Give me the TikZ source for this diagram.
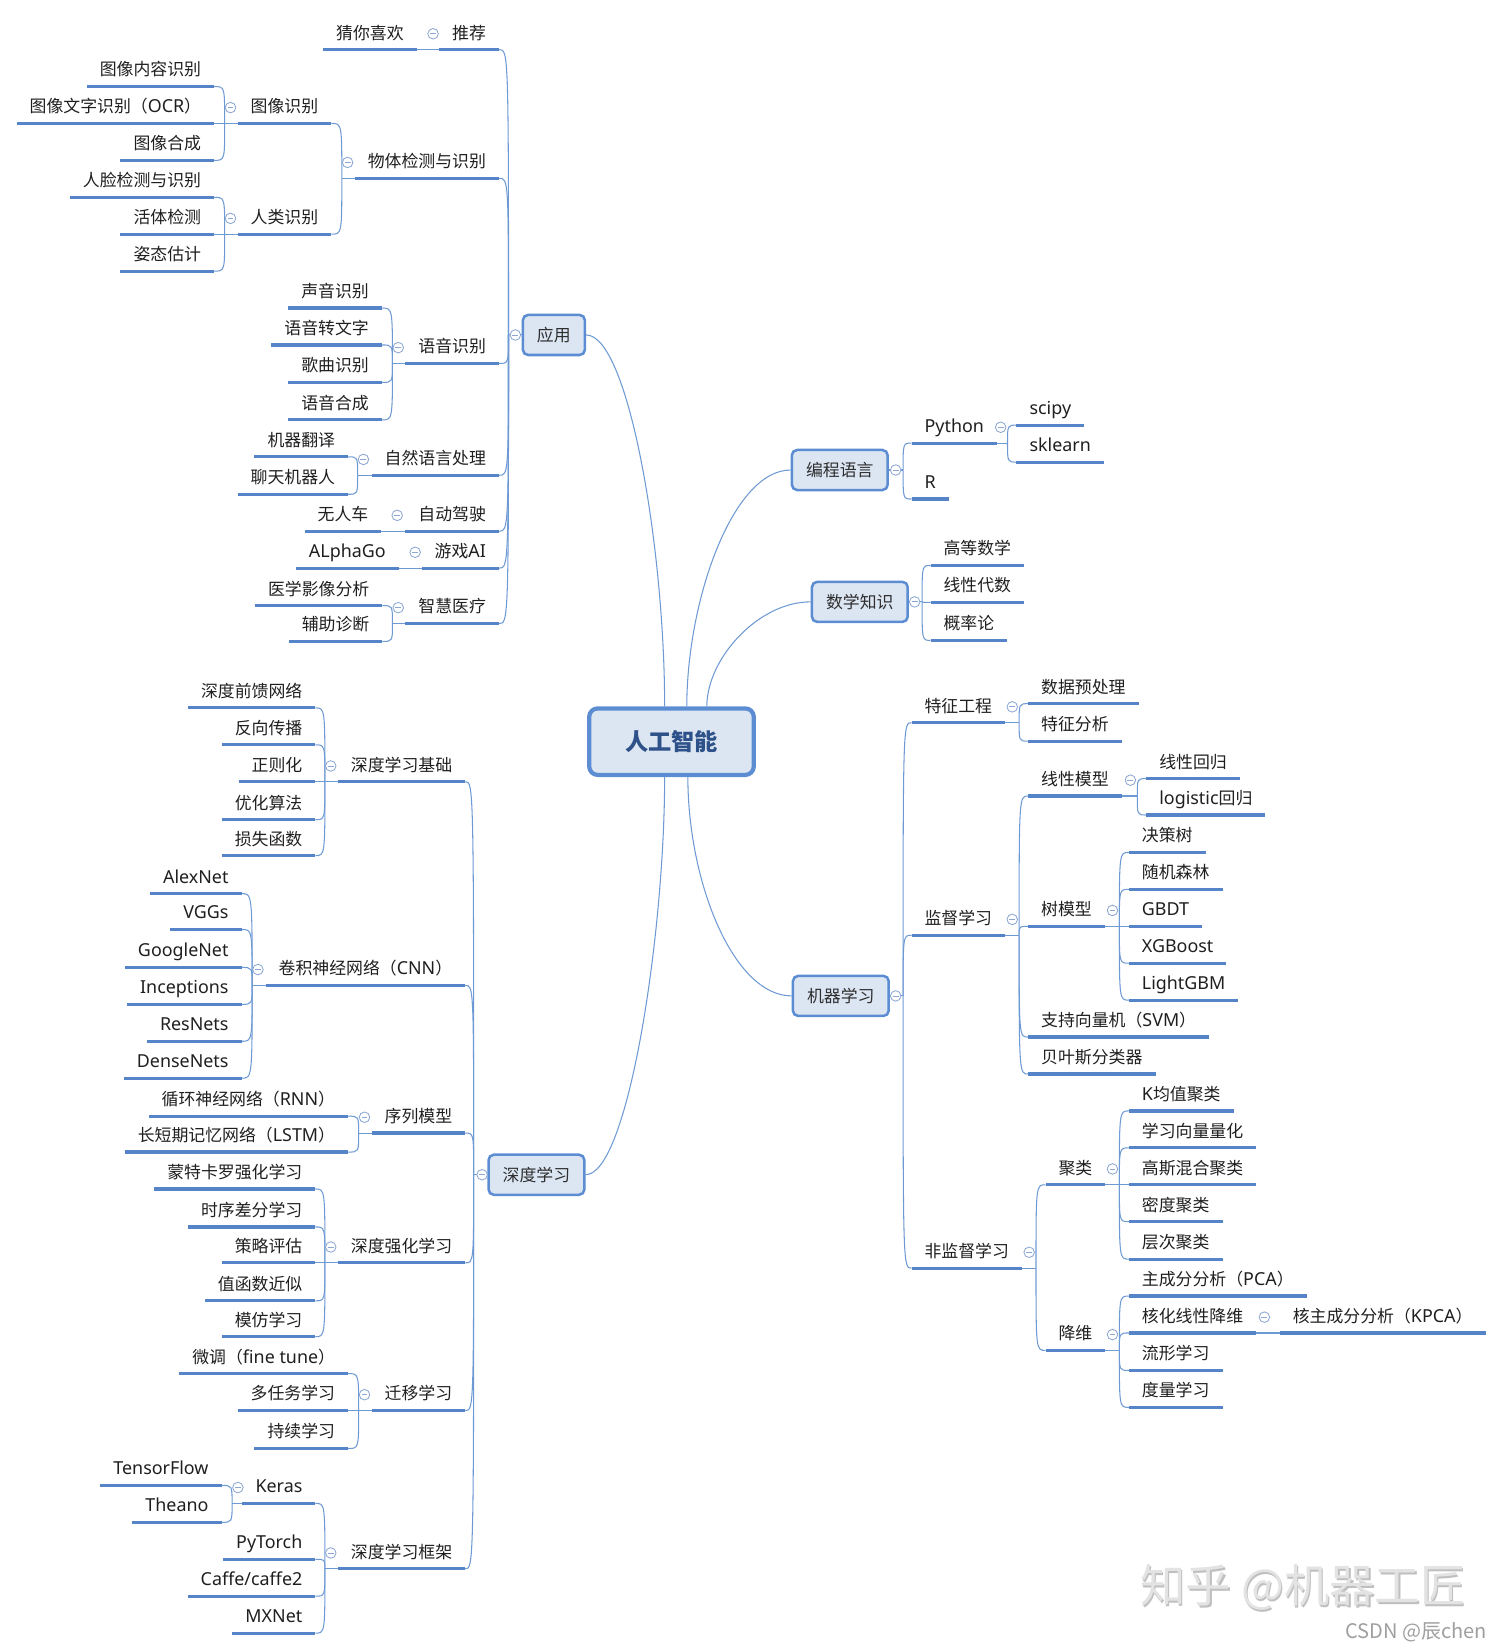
\documentclass[tikz,border=0pt]{standalone}
\usepackage{fontspec}
\setmainfont{Noto Sans CJK SC}
\newfontfamily\latfam[Scale=1.06]{Noto Sans}
\newcommand{\lat}[1]{{\latfam #1}}
\usepackage{tikz}
\usetikzlibrary{positioning,calc}
\definecolor{ulblue}{HTML}{5585C8}
\definecolor{lnblue}{HTML}{6E9AD4}
\definecolor{boxline}{HTML}{5C8DD3}
\definecolor{boxfill}{HTML}{DCE6F3}
\definecolor{boxtext}{HTML}{2E2E2E}
\definecolor{roottext}{HTML}{2E5189}
\definecolor{foldblue}{HTML}{8CA7D3}
\newcommand{\mmsize}{\fontsize{8pt}{9pt}\selectfont}
\tikzstyle{uline}=[draw=ulblue,line width=1.5pt]
\tikzstyle{conn} =[draw=lnblue,line width=0.5pt]
\tikzstyle{leaf} =[inner xsep=6pt,inner ysep=0pt,text height=7pt,text depth=1.6pt,minimum height=15pt,font=\mmsize,text=black!88,
                   append after command={(\tikzlastnode.south west) edge[uline] (\tikzlastnode.south east)}]
\tikzstyle{lleaf}=[leaf,anchor=south east]
\tikzstyle{rleaf}=[leaf,anchor=south west]
\tikzstyle{topic}=[draw=boxline,line width=1.2pt,fill=boxfill,rounded corners=2.5pt,minimum height=19pt,inner xsep=6.7pt,font=\mmsize,text=boxtext]
\tikzstyle{root} =[draw=boxline,line width=2pt,fill=boxfill,rounded corners=4pt,minimum width=78pt,minimum height=31.5pt,font=\fontsize{11pt}{12pt}\selectfont\bfseries,text=roottext]
\tikzstyle{fold} =[circle,draw=foldblue,line width=0.4pt,fill=white,minimum size=5pt,inner sep=0pt,
                   path picture={\draw[foldblue,line width=0.4pt] ([xshift=-1.4pt]path picture bounding box.center) -- ([xshift=1.4pt]path picture bounding box.center);}]
\tikzstyle{wmark}=[font=\fontsize{21.5pt}{22pt}\selectfont]
\newcommand{\lfan}[2]{\foreach \ch in {#2}{\draw[conn] (#1) .. controls (#1 |- \ch.south east) .. (\ch.south east);}}
\newcommand{\rfan}[2]{\foreach \ch in {#2}{\draw[conn] (#1) .. controls (#1 |- \ch.south west) .. (\ch.south west);}}
\newcommand{\lbranch}[4]{\coordinate (j#1) at (#2,#3);
  \draw[conn] (j#1) -- (#1.south west);
  \lfan{j#1}{#4}
  \node[fold] (f#1) at ($(j#1)+(5.5,-15)$) {};}
\newcommand{\rbranch}[4]{\coordinate (j#1) at (#2,#3);
  \draw[conn] (#1.south east) -- (j#1);
  \rfan{j#1}{#4}
  \node[fold] (f#1) at ($(j#1)+(-6.5,-15)$) {};}

\begin{document}
\begin{tikzpicture}[x=0.5pt,y=-0.5pt]
\useasboundingbox (0,0) rectangle (1424,1564);
\node[root]  (ai)   at (636.5,703)    {人工智能};
\node[topic] (app)  at (525,317.5)    {应用};
\node[topic] (prog) at (796,445.5)    {编程语言};
\node[topic] (math) at (815,570.5)    {数学知识};
\node[topic] (ml)   at (797,944)      {机器学习};
\node[topic] (dl)   at (508.5,1113.5) {深度学习};

\node[lleaf] (tj)    at (473,47)      {推荐};
\node[lleaf] (cxhx)  at (395,47)      {猜你喜欢};
\node[lleaf] (wt)    at (473,169)     {物体检测与识别};
\node[lleaf] (txsb)  at (314,117)     {图像识别};
\node[lleaf] (txnr)  at (203,82)      {图像内容识别};
\node[lleaf] (txwz)  at (203,117)     {图像文字识别（\lat{OCR}）};
\node[lleaf] (txhc)  at (203,152)     {图像合成};
\node[lleaf] (rlsb)  at (314,222)     {人类识别};
\node[lleaf] (rljc)  at (203,187)     {人脸检测与识别};
\node[lleaf] (htjc)  at (203,222)     {活体检测};
\node[lleaf] (ztgj)  at (203,257)     {姿态估计};
\node[lleaf] (yysb)  at (473,344.5)   {语音识别};
\node[lleaf] (sysb)  at (362,292)     {声音识别};
\node[lleaf] (yyzw)  at (362,327)     {语音转文字};
\node[lleaf] (gqsb)  at (362,362.5)   {歌曲识别};
\node[lleaf] (yyhc)  at (362,398)     {语音合成};
\node[lleaf] (zrcl)  at (473,450.5)   {自然语言处理};
\node[lleaf] (jqfy)  at (330,433)     {机器翻译};
\node[lleaf] (ltjq)  at (330,468.5)   {聊天机器人};
\node[lleaf] (zdjs)  at (473,503.5)   {自动驾驶};
\node[lleaf] (wrc)   at (361.5,503.5) {无人车};
\node[lleaf] (yxai)  at (473,538.5)   {游戏\lat{AI}};
\node[lleaf] (alpha) at (378,538.5)   {\lat{ALphaGo}};
\node[lleaf] (zhyl)  at (473,591)     {智慧医疗};
\node[lleaf] (yxyx)  at (362.5,574)   {医学影像分析};
\node[lleaf] (fzzd)  at (362.5,608)   {辅助诊断};

\node[rleaf] (py)    at (864,420)     {\lat{Python}};
\node[rleaf] (scipy) at (963.5,403)   {\lat{scipy}};
\node[rleaf] (skl)   at (963.5,438)   {\lat{sklearn}};
\node[rleaf] (rl)    at (864,473)     {\lat{R}};
\node[rleaf] (gdsx)  at (882,536)     {高等数学};
\node[rleaf] (xxds)  at (882,571)     {线性代数};
\node[rleaf] (gll)   at (882,607)     {概率论};

\node[rleaf] (tzgc)  at (864,685)     {特征工程};
\node[rleaf] (sjycl) at (974.5,667)   {数据预处理};
\node[rleaf] (tzfx)  at (974.5,702.5) {特征分析};
\node[rleaf] (jdxx)  at (864,886.5)   {监督学习};
\node[rleaf] (xxmx)  at (974.5,754.5) {线性模型};
\node[rleaf] (xxhg)  at (1086.5,738)  {线性回归};
\node[rleaf] (lghg)  at (1086.5,772.5) {\lat{logistic}回归};
\node[rleaf] (smx)   at (974.5,878)   {树模型};
\node[rleaf] (jcs)   at (1070,808)    {决策树};
\node[rleaf] (sjsl)  at (1070,843)    {随机森林};
\node[rleaf] (gbdt)  at (1070,878)    {\lat{GBDT}};
\node[rleaf] (xgb)   at (1070,913)    {\lat{XGBoost}};
\node[rleaf] (lgbm)  at (1070,948)    {\lat{LightGBM}};
\node[rleaf] (svm)   at (974.5,983)   {支持向量机（\lat{SVM}）};
\node[rleaf] (byes)  at (974.5,1018)  {贝叶斯分类器};
\node[rleaf] (fjd)   at (864,1202)    {非监督学习};
\node[rleaf] (jl)    at (991,1123)    {聚类};
\node[rleaf] (kjz)   at (1070,1053)   {\lat{K}均值聚类};
\node[rleaf] (xxlh)  at (1070,1088)   {学习向量量化};
\node[rleaf] (gshh)  at (1070,1123)   {高斯混合聚类};
\node[rleaf] (mdjl)  at (1070,1158)   {密度聚类};
\node[rleaf] (ccjl)  at (1070,1193.5) {层次聚类};
\node[rleaf] (jw)    at (991,1280)    {降维};
\node[rleaf] (pca)   at (1070,1228.5) {主成分分析（\lat{PCA}）};
\node[rleaf] (hhjw)  at (1070,1263.5) {核化线性降维};
\node[rleaf] (kpca)  at (1213,1263.5) {核主成分分析（\lat{KPCA}）};
\node[rleaf] (lxxx)  at (1070,1299)   {流形学习};
\node[rleaf] (dlxx)  at (1070,1334)   {度量学习};

\node[lleaf] (sdjc)  at (441,741)     {深度学习基础};
\node[lleaf] (sdqk)  at (299,671)     {深度前馈网络};
\node[lleaf] (fxcb)  at (299,706)     {反向传播};
\node[lleaf] (zzh)   at (299,741)     {正则化};
\node[lleaf] (yhsf)  at (299,777)     {优化算法};
\node[lleaf] (sshs)  at (299,811)     {损失函数};
\node[lleaf] (cnn)   at (441,934)     {卷积神经网络（\lat{CNN}）};
\node[lleaf] (alex)  at (229,847)     {\lat{AlexNet}};
\node[lleaf] (vgg)   at (229,881)     {\lat{VGGs}};
\node[lleaf] (ggn)   at (229,917)     {\lat{GoogleNet}};
\node[lleaf] (incp)  at (229,952)     {\lat{Inceptions}};
\node[lleaf] (resn)  at (229,987)     {\lat{ResNets}};
\node[lleaf] (dens)  at (229,1022)    {\lat{DenseNets}};
\node[lleaf] (xlmx)  at (441,1074)    {序列模型};
\node[lleaf] (rnn)   at (330,1058)    {循环神经网络（\lat{RNN}）};
\node[lleaf] (lstm)  at (330,1092)    {长短期记忆网络（\lat{LSTM}）};
\node[lleaf] (sdqh)  at (441,1197)    {深度强化学习};
\node[lleaf] (mtkl)  at (299,1127)    {蒙特卡罗强化学习};
\node[lleaf] (sxcf)  at (299,1163)    {时序差分学习};
\node[lleaf] (clpg)  at (299,1197)    {策略评估};
\node[lleaf] (hsjs)  at (299,1233)    {值函数近似};
\node[lleaf] (mfxx)  at (299,1267)    {模仿学习};
\node[lleaf] (qyxx)  at (441,1337)    {迁移学习};
\node[lleaf] (wtft)  at (330,1302)    {微调（\lat{fine tune}）};
\node[lleaf] (drw)   at (330,1337)    {多任务学习};
\node[lleaf] (cxxx)  at (330,1373)    {持续学习};
\node[lleaf] (kj)    at (441,1487)    {深度学习框架};
\node[lleaf] (keras) at (299,1425)    {\lat{Keras}};
\node[lleaf] (tf)    at (210,1408)    {\lat{TensorFlow}};
\node[lleaf] (thea)  at (210,1443)    {\lat{Theano}};
\node[lleaf] (pyt)   at (299,1478)    {\lat{PyTorch}};
\node[lleaf] (caffe) at (299,1513)    {\lat{Caffe/caffe2}};
\node[lleaf] (mxn)   at (299,1548)    {\lat{MXNet}};

\draw[conn] ([xshift=-3.25pt]ai.north) .. controls +(0,-150) and +(40,0) .. (app.east);
\draw[conn] ([xshift=7.25pt]ai.north) .. controls +(0,-100) and +(-55,0) .. (prog.west);
\draw[conn] ([xshift=16.75pt]ai.north) .. controls +(0,-45) and +(-50,0) .. (math.west);
\draw[conn] ([xshift=7.75pt]ai.south) .. controls +(0,100) and +(-55,0) .. (ml.west);
\draw[conn] ([xshift=-3.25pt]ai.south) .. controls +(0,150) and +(40,0) .. (dl.east);

\coordinate (japp) at (482,317.5);
\draw[conn] (app.west) -- (japp);
\lfan{japp}{tj,wt,yysb,zrcl,zdjs,yxai,zhyl}
\node[fold] (fapp) at (488.5,317.5) {};
\coordinate (jprog) at (856,445.5);
\draw[conn] (prog.east) -- (jprog);
\rfan{jprog}{py,rl}
\node[fold] (fprog) at (849,445.5) {};
\coordinate (jmath) at (874,570.5);
\draw[conn] (math.east) -- (jmath);
\rfan{jmath}{gdsx,xxds,gll}
\node[fold] (fmath) at (867,570.5) {};
\coordinate (jml) at (856,944);
\draw[conn] (ml.east) -- (jml);
\rfan{jml}{tzgc,jdxx,fjd}
\node[fold] (fml) at (849,944) {};
\coordinate (jdl) at (449,1113.5);
\draw[conn] (dl.west) -- (jdl);
\lfan{jdl}{sdjc,cnn,xlmx,sdqh,qyxx,kj}
\node[fold] (fdl) at (457,1113.5) {};

\lbranch{tj}{405}{47}{cxhx}
\lbranch{wt}{324}{169}{txsb,rlsb}
\lbranch{txsb}{213}{117}{txnr,txwz,txhc}
\lbranch{rlsb}{213}{222}{rljc,htjc,ztgj}
\lbranch{yysb}{372}{344.5}{sysb,yyzw,gqsb,yyhc}
\lbranch{zrcl}{339}{450.5}{jqfy,ltjq}
\lbranch{zdjs}{371}{503.5}{wrc}
\lbranch{yxai}{388}{538.5}{alpha}
\lbranch{zhyl}{372}{591}{yxyx,fzzd}

\rbranch{py}{955}{420}{scipy,skl}
\rbranch{tzgc}{966}{685}{sjycl,tzfx}
\rbranch{jdxx}{966}{886.5}{xxmx,smx,svm,byes}
\rbranch{xxmx}{1078}{754.5}{xxhg,lghg}
\rbranch{smx}{1061}{878}{jcs,sjsl,gbdt,xgb,lgbm}
\rbranch{fjd}{982}{1202}{jl,jw}
\rbranch{jl}{1061}{1123}{kjz,xxlh,gshh,mdjl,ccjl}
\rbranch{jw}{1061}{1280}{pca,hhjw,lxxx,dlxx}
\rbranch{hhjw}{1205}{1263.5}{kpca}

\lbranch{sdjc}{308}{741}{sdqk,fxcb,zzh,yhsf,sshs}
\lbranch{cnn}{239}{934}{alex,vgg,ggn,incp,resn,dens}
\lbranch{xlmx}{340}{1074}{rnn,lstm}
\lbranch{sdqh}{308}{1197}{mtkl,sxcf,clpg,hsjs,mfxx}
\lbranch{qyxx}{340}{1337}{wtft,drw,cxxx}
\lbranch{kj}{308}{1487}{keras,pyt,caffe,mxn}
\lbranch{keras}{220}{1425}{tf,thea}

\node[wmark,text=gray!50] (wms) at (1236.5,1506.5) {知乎 @机器工匠};
\node[wmark,text=gray!22] (wm)  at (1235,1505) {知乎 @机器工匠};
\node[anchor=east,inner sep=0pt,font=\fontsize{9.5pt}{10pt}\selectfont,text=gray!75] (csdn) at (1410,1547) {CSDN @辰chen};
\end{tikzpicture}
\end{document}
